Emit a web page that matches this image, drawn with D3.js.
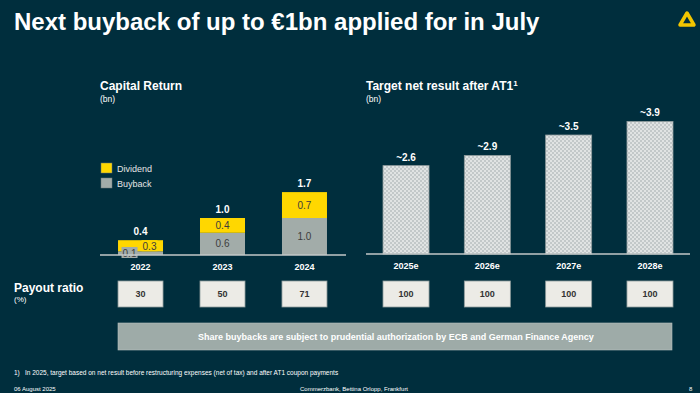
<!DOCTYPE html>
<html>
<head>
<meta charset="utf-8">
<script src="https://cdn.jsdelivr.net/npm/d3@7"></script>
<style>
  body { margin: 0; background: #002e3d; }
  svg { display: block; font-family: "Liberation Sans", Arial, sans-serif; }
</style>
</head>
<body>
<svg id="Slide"></svg>
<script>
// data
let capYears = ["2022", "2023", "2024"]
let buyback = [0.1, 0.6, 1.0]
let dividend = [0.3, 0.4, 0.7]
let capTotals = ["0.4", "1.0", "1.7"]

let targetYears = ["2025e", "2026e", "2027e", "2028e"]
let targetValues = [2.6, 2.9, 3.5, 3.9]
let targetLabels = ["~2.6", "~2.9", "~3.5", "~3.9"]

let payoutCap = [30, 50, 71]
let payoutTarget = [100, 100, 100, 100]

let legendItems = [
  { name: "Dividend", color: "#ffd700" },
  { name: "Buyback", color: "#a2aca9" }
]

function getConfig() {
  let width = 700, height = 393
  let container = d3.select("#Slide")
    .attr("width", width)
    .attr("height", height)
  return { width, height, container }
}

function drawHeader(svg) {
  svg.append("text")
    .attr("x", 14).attr("y", 30)
    .attr("fill", "#fff")
    .style("font-family", "'Liberation Sans Narrow', 'Liberation Sans', sans-serif")
    .style("font-weight", "bold")
    .style("font-size", "24px")
    .text("Next buyback of up to €1bn applied for in July")

  // logo: rounded yellow triangle
  let g = svg.append("g").attr("transform", "translate(687,19)")
  g.append("path")
    .attr("d", "M0,-6 L7,6 L-7,6 Z")
    .attr("fill", "none")
    .attr("stroke", "#f2c500")
    .attr("stroke-width", 3.5)
    .attr("stroke-linejoin", "round")
}

function drawCapitalChart(svg) {
  let base = 255
  let x = d3.scaleBand().domain(capYears).range([99, 346]).paddingInner(0.451).paddingOuter(0.232)
  let y = d3.scaleLinear().domain([0, 2]).range([base, base - 74])

  svg.append("text").attr("x", 100).attr("y", 90).attr("fill", "#fff")
    .style("font-weight", "bold").style("font-size", "12px").text("Capital Return")
  svg.append("text").attr("x", 100).attr("y", 102).attr("fill", "#fff")
    .style("font-size", "8.5px").text("(bn)")

  // legend
  let lg = svg.selectAll(".legend").data(legendItems).enter().append("g")
    .attr("transform", (d, i) => `translate(101,${163 + i * 15})`)
  lg.append("rect").attr("width", 11).attr("height", 10)
    .attr("fill", d => d.color).attr("stroke", "#6f7a78").attr("stroke-width", 0.5)
  lg.append("text").attr("x", 16).attr("y", 8.5).attr("fill", "#e6e6e6")
    .style("font-size", "9px").text(d => d.name)

  let rows = capYears.map((yr, i) => ({ yr, b: buyback[i], d: dividend[i], total: capTotals[i] }))

  svg.selectAll(".bb").data(rows).enter().append("rect")
    .attr("x", d => x(d.yr)).attr("width", x.bandwidth())
    .attr("y", d => y(d.b)).attr("height", d => base - y(d.b))
    .attr("fill", "#a2aca9")
  svg.selectAll(".dv").data(rows).enter().append("rect")
    .attr("x", d => x(d.yr)).attr("width", x.bandwidth())
    .attr("y", d => y(d.b + d.d)).attr("height", d => y(d.b) - y(d.b + d.d))
    .attr("fill", "#ffd700")

  // segment labels (small 2022 bar gets boxed labels off-centre)
  rows.forEach((d, i) => {
    let cx = x(d.yr) + x.bandwidth() / 2
    if (i === 0) {
      let lab = [
        { t: d.b.toFixed(1), x: cx - 11, y: base - 2, fill: "#a2aca9" },
        { t: d.d.toFixed(1), x: cx + 9, y: y(d.b + d.d) + 6, fill: "#ffd700" }
      ]
      lab.forEach(l => {
        svg.append("rect").attr("x", l.x - 8).attr("y", l.y - 6).attr("width", 16).attr("height", 11).attr("fill", l.fill)
        svg.append("text").attr("x", l.x).attr("y", l.y + 3.5).attr("text-anchor", "middle")
          .attr("fill", "#3c3c3c").style("font-size", "10px").text(l.t)
      })
    } else {
      svg.append("text").attr("x", cx).attr("y", (base + y(d.b)) / 2 + 3.5).attr("text-anchor", "middle")
        .attr("fill", "#3c3c3c").style("font-size", "10px").text(d.b.toFixed(1))
      svg.append("text").attr("x", cx).attr("y", (y(d.b) + y(d.b + d.d)) / 2 + 3.5).attr("text-anchor", "middle")
        .attr("fill", "#3c3c3c").style("font-size", "10px").text(d.d.toFixed(1))
    }
    svg.append("text").attr("x", cx).attr("y", y(d.b + d.d) - 5).attr("text-anchor", "middle")
      .attr("fill", "#fff").style("font-weight", "bold").style("font-size", "10px").text(d.total)
  })

  drawBaseAxis(svg, x, base, 100, 346)
  drawPayout(svg, x, payoutCap, capYears)
}

function drawTargetChart(svg) {
  let base = 254
  let x = d3.scaleBand().domain(targetYears).range([366, 690]).paddingInner(0.434).paddingOuter(0.209)
  let y = d3.scaleLinear().domain([0, 4]).range([base, base - 136])

  svg.append("text").attr("x", 366).attr("y", 90).attr("fill", "#fff")
    .style("font-weight", "bold").style("font-size", "12px")
    .text("Target net result after AT1")
    .append("tspan").attr("dy", -4).style("font-size", "8px").text("1")
  svg.append("text").attr("x", 366).attr("y", 102).attr("fill", "#fff")
    .style("font-size", "8.5px").text("(bn)")

  let defs = svg.append("defs")
  let pat = defs.append("pattern").attr("id", "checker")
    .attr("width", 4).attr("height", 4).attr("patternUnits", "userSpaceOnUse")
  pat.append("rect").attr("width", 4).attr("height", 4).attr("fill", "#e0e3e3")
  pat.append("rect").attr("width", 2).attr("height", 2).attr("fill", "#c2c8c9")
  pat.append("rect").attr("x", 2).attr("y", 2).attr("width", 2).attr("height", 2).attr("fill", "#c2c8c9")

  let rows = targetYears.map((yr, i) => ({ yr, v: targetValues[i], label: targetLabels[i] }))
  svg.selectAll(".tg").data(rows).enter().append("rect")
    .attr("x", d => x(d.yr)).attr("width", x.bandwidth())
    .attr("y", d => y(d.v)).attr("height", d => base - y(d.v))
    .attr("fill", "url(#checker)").attr("stroke", "#8e9a9c").attr("stroke-width", 0.8)
  svg.selectAll(".tl").data(rows).enter().append("text")
    .attr("x", d => x(d.yr) + x.bandwidth() / 2).attr("y", d => y(d.v) - 5)
    .attr("text-anchor", "middle").attr("fill", "#fff")
    .style("font-weight", "bold").style("font-size", "10px").text(d => d.label)

  drawBaseAxis(svg, x, base, 366, 690)
  drawPayout(svg, x, payoutTarget, targetYears)
}

function drawBaseAxis(svg, x, base, x0, x1) {
  svg.append("line").attr("x1", x0).attr("x2", x1).attr("y1", base).attr("y2", base)
    .attr("stroke", "#c3c9c9").attr("stroke-width", 1.5)
  let axis = d3.axisBottom(x).tickSize(0).tickPadding(9)
  let g = svg.append("g").attr("transform", `translate(0,${base})`).call(axis)
  g.select(".domain").remove()
  g.selectAll("text").attr("fill", "#fff")
    .style("font-family", "'Liberation Sans', Arial, sans-serif")
    .style("font-weight", "bold").style("font-size", "9px")
}

function drawPayout(svg, x, values, keys) {
  let rows = keys.map((k, i) => ({ k, v: values[i] }))
  let g = svg.append("g")
  g.selectAll("rect").data(rows).enter().append("rect")
    .attr("x", d => x(d.k)).attr("width", x.bandwidth())
    .attr("y", 281).attr("height", 26)
    .attr("fill", "#ecebe6").attr("stroke", "#8f9c9c").attr("stroke-width", 0.8)
  g.selectAll("text").data(rows).enter().append("text")
    .attr("x", d => x(d.k) + x.bandwidth() / 2).attr("y", 297)
    .attr("text-anchor", "middle").attr("fill", "#333")
    .style("font-family", "'Liberation Sans Narrow', 'Liberation Sans', sans-serif")
    .style("font-weight", "bold").style("font-size", "9px").text(d => d.v)
}

function drawFooter(svg) {
  svg.append("text").attr("x", 14).attr("y", 292).attr("fill", "#fff")
    .style("font-weight", "bold").style("font-size", "12px").text("Payout ratio")
  svg.append("text").attr("x", 14).attr("y", 302).attr("fill", "#fff")
    .style("font-size", "8px").text("(%)")

  svg.append("rect").attr("x", 118).attr("y", 323).attr("width", 554).attr("height", 27)
    .attr("fill", "#9eaba8").attr("stroke", "#b6c0be").attr("stroke-width", 0.6)
  svg.append("text").attr("x", 396).attr("y", 339.5).attr("text-anchor", "middle").attr("fill", "#fff")
    .style("font-family", "'Liberation Sans Narrow', 'Liberation Sans', sans-serif")
    .style("font-weight", "bold").style("font-size", "9px")
    .text("Share buybacks are subject to prudential authorization by ECB and German Finance Agency")

  let small = "'Liberation Sans Narrow', 'Liberation Sans', sans-serif"
  svg.append("text").attr("x", 14).attr("y", 375).attr("fill", "#fff")
    .style("font-family", small).style("font-size", "6.5px").text("1)")
  svg.append("text").attr("x", 25).attr("y", 375).attr("fill", "#fff")
    .style("font-family", small).style("font-size", "6.5px")
    .text("In 2025, target based on net result before restructuring expenses (net of tax) and after AT1 coupon payments")
  svg.append("text").attr("x", 14).attr("y", 391).attr("fill", "#fff")
    .style("font-family", small).style("font-size", "6px").text("06 August 2025")
  svg.append("text").attr("x", 300).attr("y", 391).attr("fill", "#fff")
    .style("font-family", small).style("font-size", "6px").text("Commerzbank, Bettina Orlopp, Frankfurt")
  svg.append("text").attr("x", 689).attr("y", 391).attr("fill", "#fff")
    .style("font-family", small).style("font-size", "6px").text("8")
}

let config = getConfig()
drawHeader(config.container)
drawCapitalChart(config.container)
drawTargetChart(config.container)
drawFooter(config.container)
</script>
</body>
</html>
